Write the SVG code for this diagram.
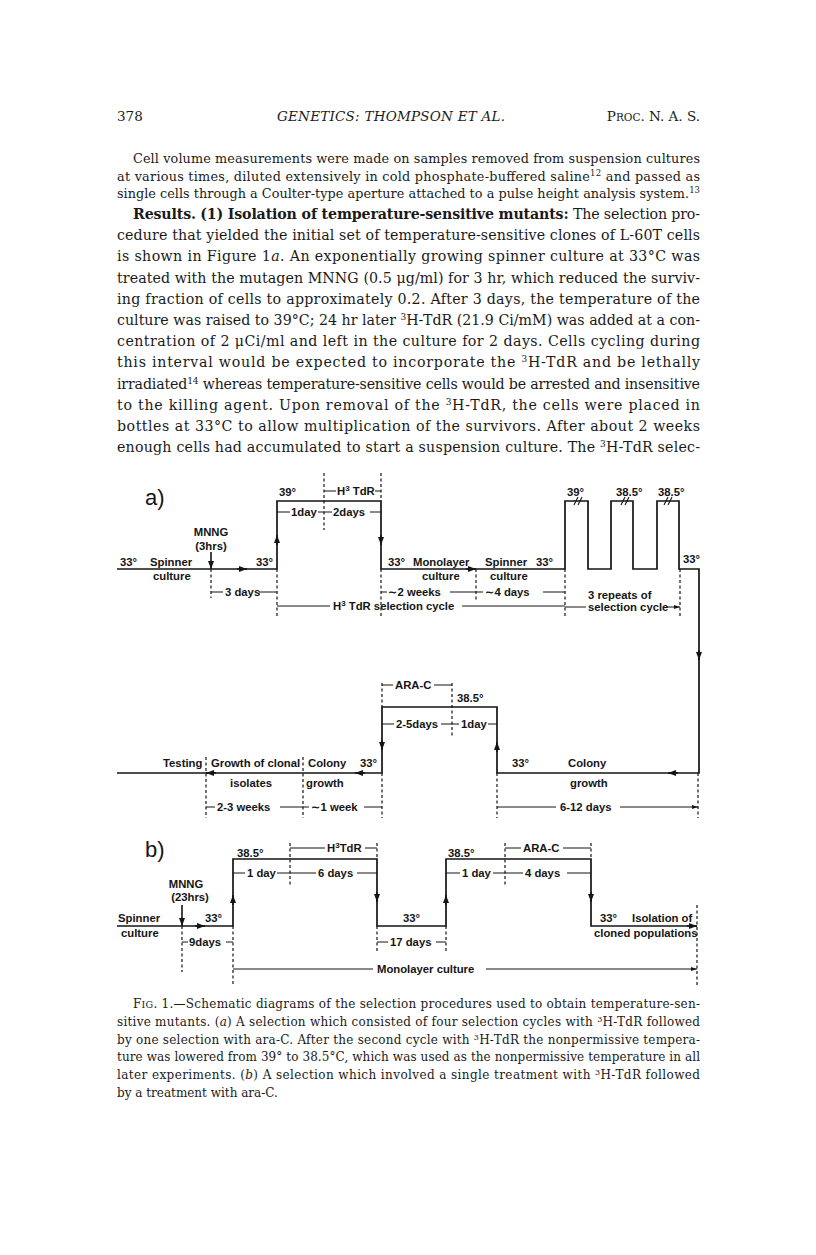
<svg xmlns="http://www.w3.org/2000/svg" width="816" height="1255" viewBox="0 0 816 1255">
<style>
.bg{fill:#fff}
.tx{font-family:"DejaVu Serif","Liberation Serif",serif;fill:#1a1a1a}
.p1{font-size:12.8px}
.p2{font-size:14.2px}
.cap{font-size:12px}
.lb{font-family:"Liberation Sans","DejaVu Sans",sans-serif;font-weight:bold;font-size:11.3px;fill:#151515}
.big{font-family:"Liberation Sans","DejaVu Sans",sans-serif;font-weight:normal;font-size:22px;fill:#151515}
.ln{stroke:#151515;stroke-width:1.7;fill:none;stroke-linejoin:miter}
.ds{stroke:#151515;stroke-width:1.2;stroke-dasharray:3 2.5;fill:none}
.dm{stroke:#151515;stroke-width:1;fill:none;marker-end:url(#sa)}
.fl{stroke:#151515;stroke-width:1.6;fill:none;marker-end:url(#fa)}
.bk{stroke:#151515;stroke-width:1.1;fill:none}
</style>
<defs>
<marker id="fa" viewBox="0 0 8 6" refX="8" refY="3" markerWidth="8" markerHeight="6" markerUnits="userSpaceOnUse" orient="auto"><path d="M0,0L8,3L0,6z" fill="#151515"/></marker>
<marker id="sa" viewBox="0 0 6 4" refX="6" refY="2" markerWidth="6" markerHeight="4" markerUnits="userSpaceOnUse" orient="auto"><path d="M0,0L6,2L0,4z" fill="#151515"/></marker>
</defs>
<rect class="bg" x="0" y="0" width="816" height="1255"/>

<g id="header" class="tx" font-size="13.5px">
<text x="117" y="121">378</text>
<text x="391" y="121" text-anchor="middle" font-style="italic" textLength="228" lengthAdjust="spacing">GENETICS:  THOMPSON ET AL.</text>
<text x="700" y="121" text-anchor="end">P<tspan font-size="10.5px">ROC</tspan>. N. A. S.</text>
</g>

<g id="paragraph-methods" class="tx p1">
<text x="133" y="163" textLength="567" lengthAdjust="spacing">Cell volume measurements were made on samples removed from suspension cultures</text>
<text x="117" y="180.5" textLength="583" lengthAdjust="spacing">at various times, diluted extensively in cold phosphate-buffered saline<tspan dy="-5" font-size="8.5px">12</tspan><tspan dy="5"> and passed as</tspan></text>
<text x="117" y="198" textLength="583" lengthAdjust="spacing">single cells through a Coulter-type aperture attached to a pulse height analysis system.<tspan dy="-5" font-size="8.5px">13</tspan></text>
</g>

<g id="paragraph-results" class="tx p2">
<text x="133" y="219" textLength="567" lengthAdjust="spacing"><tspan font-weight="bold">Results.</tspan> <tspan font-weight="bold">(1) Isolation of temperature-sensitive mutants:</tspan> The selection pro-</text>
<text x="117" y="240.2" textLength="583" lengthAdjust="spacing">cedure that yielded the initial set of temperature-sensitive clones of L-60T cells</text>
<text x="117" y="261.4" textLength="583" lengthAdjust="spacing">is shown in Figure 1<tspan font-style="italic">a</tspan>. An exponentially growing spinner culture at 33°C was</text>
<text x="117" y="282.6" textLength="583" lengthAdjust="spacing">treated with the mutagen MNNG (0.5 μg/ml) for 3 hr, which reduced the surviv-</text>
<text x="117" y="303.8" textLength="583" lengthAdjust="spacing">ing fraction of cells to approximately 0.2. After 3 days, the temperature of the</text>
<text x="117" y="325" textLength="583" lengthAdjust="spacing">culture was raised to 39°C; 24 hr later <tspan dy="-5" font-size="9px">3</tspan><tspan dy="5">H-TdR (21.9 Ci/mM) was added at a con-</tspan></text>
<text x="117" y="346.2" textLength="583" lengthAdjust="spacing">centration of 2 μCi/ml and left in the culture for 2 days. Cells cycling during</text>
<text x="117" y="367.4" textLength="583" lengthAdjust="spacing">this interval would be expected to incorporate the <tspan dy="-5" font-size="9px">3</tspan><tspan dy="5">H-TdR and be lethally</tspan></text>
<text x="117" y="388.6" textLength="583" lengthAdjust="spacing">irradiated<tspan dy="-5" font-size="9px">14</tspan><tspan dy="5"> whereas temperature-sensitive cells would be arrested and insensitive</tspan></text>
<text x="117" y="409.8" textLength="583" lengthAdjust="spacing">to the killing agent. Upon removal of the <tspan dy="-5" font-size="9px">3</tspan><tspan dy="5">H-TdR, the cells were placed in</tspan></text>
<text x="117" y="431" textLength="583" lengthAdjust="spacing">bottles at 33°C to allow multiplication of the survivors. After about 2 weeks</text>
<text x="117" y="452.2" textLength="583" lengthAdjust="spacing">enough cells had accumulated to start a suspension culture. The <tspan dy="-5" font-size="9px">3</tspan><tspan dy="5">H-TdR selec-</tspan></text>
</g>

<g id="connectors">
<path class="ln" d="M117,569H277V501H381V569H565V501H588V569H611V501H633V569H657V501H679V569H699V773H497V707H382V773H117"/>
<path class="ln" d="M117,926H233V859H377V926H446V859H591V926H697"/>
<path class="fl" d="M237,569H247"/>
<path class="fl" d="M277,545V535"/>
<path class="fl" d="M381,535V545"/>
<path class="fl" d="M466,569H476"/>
<path class="fl" d="M699,650V660"/>
<path class="fl" d="M678,773H668"/>
<path class="fl" d="M497,752V742"/>
<path class="fl" d="M382,740V750"/>
<path class="fl" d="M365,773H355"/>
<path class="fl" d="M216,773H206"/>
<path class="fl" d="M211,552V569"/>
<path class="fl" d="M182,905V926"/>
<path class="fl" d="M195,926H205"/>
<path class="fl" d="M233,905V895"/>
<path class="fl" d="M377,892V902"/>
<path class="fl" d="M446,905V895"/>
<path class="fl" d="M591,892V902"/>
<path class="fl" d="M687,926H697"/>
<path class="bk" d="M574,505L578,497M578,505L582,497M621,505L625,497M625,505L629,497M664,505L668,497M668,505L672,497"/>
<path class="ds" d="M211,569V598M277,569V616M324,473V530M381,473V501M381,569V616M476,569V601M565,569V617M680,569V617"/>
<path class="ds" d="M382,683V707M382,773V818M452,683V736M206,757V818M303,757V818M497,773V818M698,773V818"/>
<path class="ds" d="M182,926V972M233,926V986M290,843V886M377,843V859M377,926V953M446,926V953M505,843V886M591,843V859M697,905V986"/>
<path class="dm" d="M336,491H324M375,491H381M290,512H277M318,512H324M332,512H324M370,512H381M223,592H211M259,592H277M330,606H277M462,606H565M387,592H381M450,592H476M483,592H476M543,592H565M586,607H565M666,607H680"/>
<path class="dm" d="M393,685H382M434,685H452M394,724H382M441,724H452M459,724H452M488,724H497M215,807H206M280,807H303M309,807H303M364,807H382M556,807H497M620,807H698"/>
<path class="dm" d="M188,942H182M226,942H233M325,848H290M365,848H377M245,873H233M277,873H290M316,873H290M357,873H377M388,942H377M436,942H446M521,848H505M563,848H591M460,873H446M493,873H505M523,873H505M567,873H591M373,969H233M486,969H697"/>
</g>

<g id="phase-a-mutagenesis" class="lb">
<text class="big" x="145" y="505">a)</text>
<text x="120" y="566">33°</text>
<text x="150" y="566">Spinner</text>
<text x="153" y="580">culture</text>
<text x="211" y="536" text-anchor="middle">MNNG</text>
<text x="211" y="550" text-anchor="middle">(3hrs)</text>
<text x="256" y="566">33°</text>
<text x="225" y="596">3 days</text>
</g>
<g id="phase-a-h3tdr" class="lb">
<text x="279" y="496">39°</text>
<text x="337" y="495">H<tspan dy="-4" font-size="8px">3</tspan><tspan dy="4"> TdR</tspan></text>
<text x="291" y="516">1day</text>
<text x="333" y="516">2days</text>
<text x="333" y="610">H<tspan dy="-4" font-size="8px">3</tspan><tspan dy="4"> TdR  selection  cycle</tspan></text>
</g>
<g id="phase-a-monolayer" class="lb">
<text x="388" y="566">33°</text>
<text x="413" y="566">Monolayer</text>
<text x="422" y="580">culture</text>
<text x="388" y="596">∼2 weeks</text>
</g>
<g id="phase-a-spinner" class="lb">
<text x="485" y="566">Spinner</text>
<text x="536" y="566">33°</text>
<text x="490" y="580">culture</text>
<text x="485" y="596">∼4 days</text>
</g>
<g id="phase-a-repeats" class="lb">
<text x="567" y="496">39°</text>
<text x="616" y="496">38.5°</text>
<text x="658" y="496">38.5°</text>
<text x="683" y="563">33°</text>
<text x="588" y="599">3 repeats of</text>
<text x="588" y="611">selection cycle</text>
</g>
<g id="phase-a-arac" class="lb">
<text x="395" y="689">ARA-C</text>
<text x="457" y="702">38.5°</text>
<text x="396" y="728">2-5days</text>
<text x="461" y="728">1day</text>
</g>
<g id="phase-a-colony" class="lb">
<text x="512" y="767">33°</text>
<text x="568" y="767">Colony</text>
<text x="570" y="787">growth</text>
<text x="560" y="811">6-12 days</text>
</g>
<g id="phase-a-testing" class="lb">
<text x="163" y="767">Testing</text>
<text x="211" y="767">Growth of clonal</text>
<text x="230" y="787">isolates</text>
<text x="308" y="767">Colony</text>
<text x="306" y="787">growth</text>
<text x="360" y="767">33°</text>
<text x="217" y="811">2-3 weeks</text>
<text x="311" y="811">∼1 week</text>
</g>

<g id="phase-b-mutagenesis" class="lb">
<text class="big" x="145" y="857">b)</text>
<text x="118" y="922">Spinner</text>
<text x="121" y="937">culture</text>
<text x="186" y="888" text-anchor="middle">MNNG</text>
<text x="190" y="901" text-anchor="middle">(23hrs)</text>
<text x="205" y="922">33°</text>
<text x="189" y="946">9days</text>
</g>
<g id="phase-b-h3tdr" class="lb">
<text x="237" y="857">38.5°</text>
<text x="327" y="852">H<tspan dy="-4" font-size="8px">3</tspan><tspan dy="4">TdR</tspan></text>
<text x="247" y="877">1 day</text>
<text x="318" y="877">6 days</text>
</g>
<g id="phase-b-recovery" class="lb">
<text x="403" y="922">33°</text>
<text x="390" y="946">17 days</text>
</g>
<g id="phase-b-arac" class="lb">
<text x="448" y="857">38.5°</text>
<text x="523" y="852">ARA-C</text>
<text x="462" y="877">1 day</text>
<text x="525" y="877">4 days</text>
</g>
<g id="phase-b-isolation" class="lb">
<text x="600" y="922">33°</text>
<text x="632" y="922">Isolation of</text>
<text x="594" y="937">cloned populations</text>
<text x="377" y="973">Monolayer culture</text>
</g>

<g id="caption" class="tx cap">
<text x="133" y="1008" textLength="567" lengthAdjust="spacing">F<tspan font-size="9.5px">IG</tspan>. 1.—Schematic diagrams of the selection procedures used to obtain temperature-sen-</text>
<text x="117" y="1025.8" textLength="583" lengthAdjust="spacing">sitive mutants. (<tspan font-style="italic">a</tspan>) A selection which consisted of four selection cycles with <tspan dy="-4" font-size="8px">3</tspan><tspan dy="4">H-TdR followed</tspan></text>
<text x="117" y="1043.6" textLength="583" lengthAdjust="spacing">by one selection with ara-C. After the second cycle with <tspan dy="-4" font-size="8px">3</tspan><tspan dy="4">H-TdR the nonpermissive tempera-</tspan></text>
<text x="117" y="1061.4" textLength="583" lengthAdjust="spacing">ture was lowered from 39° to 38.5°C, which was used as the nonpermissive temperature in all</text>
<text x="117" y="1079.2" textLength="583" lengthAdjust="spacing">later experiments. (<tspan font-style="italic">b</tspan>) A selection which involved a single treatment with <tspan dy="-4" font-size="8px">3</tspan><tspan dy="4">H-TdR followed</tspan></text>
<text x="117" y="1097">by a treatment with ara-C.</text>
</g>
</svg>
